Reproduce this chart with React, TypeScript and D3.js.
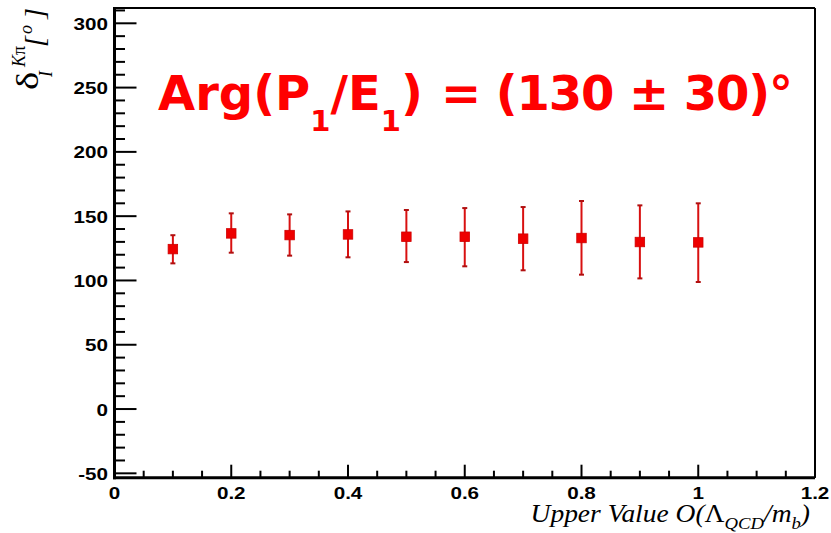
import React from "react";
import * as d3 from "d3";

const xValues = [0.1, 0.2, 0.3, 0.4, 0.5, 0.6, 0.7, 0.8, 0.9, 1.0];
const yValues = [124.4, 136.6, 135.3, 135.8, 134.0, 134.0, 132.5, 133.0, 129.9, 129.6];
const yErrUp = [135.2, 152.2, 151.4, 153.7, 154.8, 156.3, 157.1, 161.8, 158.4, 160.0];
const yErrDown = [113.3, 121.6, 119.3, 118.0, 114.3, 111.0, 107.9, 104.5, 101.6, 98.8];
const xTicks = [0, 0.2, 0.4, 0.6, 0.8, 1, 1.2];
const xTickLabels = ["0", "0.2", "0.4", "0.6", "0.8", "1", "1.2"];
const yTicks = [-50, 0, 50, 100, 150, 200, 250, 300];
const yTickLabels = ["-50", "0", "50", "100", "150", "200", "250", "300"];

const W = 831;
const H = 533;
const left = 114.5;
const right = 815;
const top = 8;
const bottom = 477.7;

export default function App() {
  const x = d3.scaleLinear().domain([0, 1.2]).range([left, right]);
  const y = d3.scaleLinear().domain([-53.4, 311.9]).range([bottom, top]);
  const xMinor = d3.range(0, 1.2001, 0.05);
  const yMinor = d3.range(-50, 311, 10);
  const data = xValues.map((xv, i) => ({ x: xv, y: yValues[i], hi: yErrUp[i], lo: yErrDown[i] }));
  const tickFont = "'Liberation Sans', Arial, sans-serif";
  const serif = "'Liberation Serif', 'Times New Roman', serif";
  const titleFont = "'DejaVu Sans', sans-serif";

  return (
    <svg width={W} height={H} style={{ position: "absolute", left: 0, top: 0, display: "block", background: "#fff" }}>
      <rect x={0} y={0} width={W} height={H} fill="#fff" />
      {/* frame */}
      <line x1={left} x2={right} y1={top} y2={top} stroke="#000" strokeWidth={2} />
      <line x1={right} x2={right} y1={top} y2={bottom} stroke="#000" strokeWidth={2} />
      <line x1={left} x2={left} y1={top - 1} y2={bottom + 1.5} stroke="#000" strokeWidth={3} />
      <line x1={left - 1.5} x2={right} y1={bottom} y2={bottom} stroke="#000" strokeWidth={3} />
      {/* y ticks */}
      {yMinor.map((v, i) => {
        const major = Math.abs(v % 50) < 1e-6;
        return (
          <line key={"ym" + i} x1={left} x2={left + (major ? 22 : 10.5)} y1={y(v)} y2={y(v)} stroke="#000" strokeWidth={2} />
        );
      })}
      {yTicks.map((v, i) => (
        <text
          key={"yl" + i}
          transform={`translate(108, ${y(v) + 6.5}) scale(1.25, 1)`}
          textAnchor="end"
          fontFamily={tickFont}
          fontWeight="bold"
          fontSize={16.5}
          fill="#000"
        >
          {yTickLabels[i]}
        </text>
      ))}
      {/* x ticks */}
      {xMinor.map((v, i) => {
        const major = Math.abs((v / 0.2) - Math.round(v / 0.2)) < 1e-6;
        return (
          <line key={"xm" + i} x1={x(v)} x2={x(v)} y1={bottom} y2={bottom - (major ? 13 : 7)} stroke="#000" strokeWidth={2} />
        );
      })}
      {xTicks.map((v, i) => (
        <text
          key={"xl" + i}
          transform={`translate(${x(v)}, 498.5) scale(1.25, 1)`}
          textAnchor="middle"
          fontFamily={tickFont}
          fontWeight="bold"
          fontSize={16.5}
          fill="#000"
        >
          {xTickLabels[i]}
        </text>
      ))}
      {/* data */}
      {data.map((d, i) => (
        <g key={"p" + i}>
          <line x1={x(d.x)} x2={x(d.x)} y1={y(d.hi)} y2={y(d.lo)} stroke="#d81010" strokeWidth={2} />
          <line x1={x(d.x) - 2.5} x2={x(d.x) + 2.5} y1={y(d.hi)} y2={y(d.hi)} stroke="#b01010" strokeWidth={2} />
          <line x1={x(d.x) - 2.5} x2={x(d.x) + 2.5} y1={y(d.lo)} y2={y(d.lo)} stroke="#b01010" strokeWidth={2} />
          <rect x={x(d.x) - 4.75} y={y(d.y) - 4.75} width={9.5} height={9.5} fill="#ee0000" stroke="#d00000" strokeWidth={0.8} />
        </g>
      ))}
      {/* title */}
      <text y={110} fontFamily={titleFont} fontWeight="bold" fontSize={48} fill="#ff0000">
        <tspan x={158}>Arg(P</tspan>
        <tspan fontSize={29} dy={21}>1</tspan>
        <tspan dy={-21}>/E</tspan>
        <tspan fontSize={29} dy={21}>1</tspan>
        <tspan dy={-21}>)</tspan>
      </text>
      <text x={441} y={110} fontFamily={titleFont} fontWeight="bold" fontSize={48} fill="#ff0000" textLength={352} lengthAdjust="spacing">
        = (130 ± 30)°
      </text>
      {/* y axis title */}
      <g transform="translate(38, 90) rotate(-90)" fontFamily={serif} fill="#000">
        <text x={0} y={0} fontSize={31} transform="scale(1.25, 1)">δ</text>
        <text x={13} y={14} fontSize={18} fontStyle="italic">I</text>
        <text x={23} y={-13} fontSize={18}>
          <tspan fontStyle="italic">K</tspan>
          <tspan>π</tspan>
        </text>
        <text x={43} y={6} fontSize={28} fontStyle="italic">[</text>
        <text x={56} y={-6} fontSize={18} fontStyle="italic">o</text>
        <text x={71} y={6} fontSize={28} fontStyle="italic">]</text>
      </g>
      {/* x axis title */}
      <text transform="translate(810, 521.5) scale(1.1, 1)" textAnchor="end" fontFamily={serif} fontStyle="italic" fontSize={25} fill="#000">
        <tspan>Upper Value O(</tspan>
        <tspan fontStyle="normal">Λ</tspan>
        <tspan fontSize={17} dy={7}>QCD</tspan>
        <tspan dy={-7}>/m</tspan>
        <tspan fontSize={17} dy={7}>b</tspan>
        <tspan dy={-7}>)</tspan>
      </text>
    </svg>
  );
}
